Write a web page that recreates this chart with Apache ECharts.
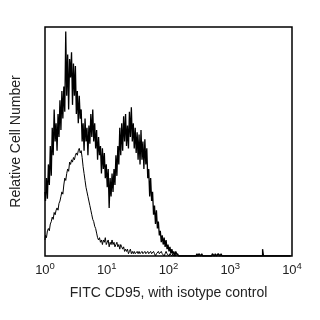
<!DOCTYPE html>
<html><head><meta charset="utf-8">
<script src="https://cdn.jsdelivr.net/npm/echarts@6/dist/echarts.min.js"></script>
<style>html,body{margin:0;padding:0;background:#fff}#c{width:320px;height:320px}</style>
</head><body><div id="c"></div>
<script>
// 256 log channels spanning 10^0 .. 10^4 (64 channels per decade)
var channelsPerDecade = 64;
var tickLabels = ['10^0','10^1','10^2','10^3','10^4'];
var xTitle = 'FITC CD95, with isotype control';
var yTitle = 'Relative Cell Number';

// FITC CD95 stained (thick, noisy)
var cd95 = [
 28,24,34,25,40,31,48,35,56,44, 64,50,58,46,62,52,68,55,72,60,
 74,63,98,70,88,64,86,78,89,66, 84,70,83,62,72,58,70,60,64,50,
 58,46,60,50,56,44,57,49,62,52, 64,50,58,47,55,42,52,44,48,36,
 47,38,45,34,40,30,38,21,34,26, 36,28,38,31,44,35,48,40,56,44,
 58,46,61,50,62,48,57,47,63,52, 65,50,58,47,56,45,54,42,53,40,
 55,42,50,38,51,40,47,34,38,26, 34,24,28,18,22,14,20,12,15,9,
 11,6,9,5,8,4,7,3,5,2, 4,1,3,1,2,0,2,1,1,0,
 0,0,0,0,0,0,0,0,0,0, 0,0,0,0,0,0,0,0,1,0, 1,1,0,1,0,0,0,0,0,0,
 0,0,0,0,1,1,0,1,0,0, 1,1,0,1,0,0,0,0,0,0, 0,0,0,0,0,0,0,0,0,0,
 0,0,0,0,0,0,0,0,0,0, 0,0,0,0,0,0,0,0,0,0, 0,0,0,0,0,0,3,0,0,0,
 0,0,0,0,0,0,0,0,0,0, 0,0,0,0,0,0,0,0,0,0, 0,0,0,0,0,0,0,0,0,0,
 0,0
];
// Isotype control (thin)
var isotype = [
 7,9,8,11,12,11,14,15,17,16, 19,18,20,21,20,23,24,26,28,27,
 31,34,33,36,38,37,41,40,42,41, 43,42,44,45,44,46,47,45,46,43,
 39,36,33,30,28,26,24,22,20,18, 16,15,13,12,10,8,7,8,6,7,
 5,7,6,8,5,6,7,4,6,5, 7,5,6,4,5,6,4,5,3,5,
 4,3,4,2,3,2,3,1,2,3, 1,2,1,2,1,1,2,1,2,1,
 1,2,1,1,2,1,1,2,1,1, 2,1,1,2,1,0,1,1,2,1,
 1,2,1,1,0,1,2,1,1,0, 1,1,0,1,0,1,0,0,1,0
];

function toSeries(arr){
  var out=[];
  for(var i=0;i<256;i++){
    out.push([Math.pow(10, i/channelsPerDecade), i<arr.length?arr[i]:0]);
  }
  return out;
}

var chart = echarts.init(document.getElementById('c'), null, {renderer:'canvas'});
var font = '"Liberation Sans", Arial, sans-serif';
chart.setOption({
  animation:false,
  backgroundColor:'#fff',
  grid:{left:45,right:28,top:27,bottom:64,show:true,borderColor:'#000',borderWidth:1.5,backgroundColor:'transparent'},
  xAxis:{
    type:'log',logBase:10,min:1,max:10000,
    axisLine:{show:false},axisTick:{show:false},splitLine:{show:false},minorTick:{show:false},
    axisLabel:{
      margin:5,color:'#222',fontFamily:font,
      formatter:function(v){
        var e=Math.round(Math.log(v)/Math.LN10);
        var t=tickLabels[e]||('10^'+e);
        var p=t.split('^');
        return '{b|'+p[0]+'}{s|'+p[1]+'}';
      },
      rich:{
        b:{fontSize:13,fontFamily:font,color:'#222'},
        s:{fontSize:9.5,fontFamily:font,color:'#222',padding:[0,0,8,0]}
      }
    },
    name:xTitle,nameLocation:'middle',nameGap:30,
    nameTextStyle:{fontSize:14,fontFamily:font,color:'#222'}
  },
  yAxis:{
    type:'value',min:0,max:100,
    axisLine:{show:false},axisTick:{show:false},splitLine:{show:false},axisLabel:{show:false},
    name:yTitle,nameLocation:'middle',nameGap:22,nameRotate:90,
    nameTextStyle:{fontSize:14,fontFamily:font,color:'#222'}
  },
  series:[
    {type:'line',step:'middle',showSymbol:false,data:toSeries(isotype),
     lineStyle:{color:'#000',width:1},z:2},
    {type:'line',step:'middle',showSymbol:false,data:toSeries(cd95),
     lineStyle:{color:'#000',width:1.3},z:3}
  ]
});
</script></body></html>
